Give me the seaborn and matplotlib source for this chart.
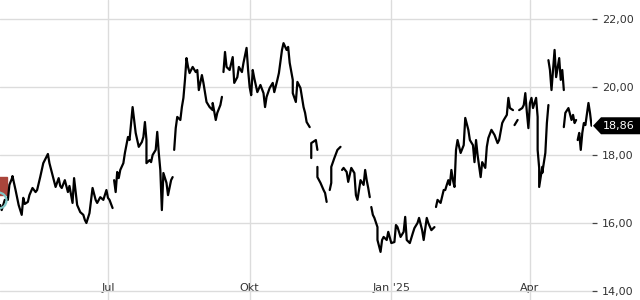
import numpy as np
import pandas as pd
import matplotlib
matplotlib.use("Agg")
import matplotlib.pyplot as plt
import seaborn as sns
from matplotlib.patches import Polygon
from matplotlib.transforms import IdentityTransform

# ---------------- data (days since start date, closing prices) ----------------
start = pd.Timestamp("2024-04-22")

seg0_days = [0, 1, 3, 5, 6, 8, 8, 10, 12, 14, 15, 16, 18, 19, 21, 23, 24, 26, 28, 29,
             31, 32, 34, 36, 38, 39, 40, 42, 44, 45, 47, 48, 50, 52, 54, 55, 56, 58, 60, 62,
             63, 65, 67, 69, 70, 71, 73]
seg0_price = [16.53, 16.38, 16.68, 16.68, 17.12, 17.35, 17.38, 16.97, 16.53, 16.24,
              16.74, 16.56, 16.62, 16.82, 17.03, 16.91, 16.97, 17.35, 17.76, 17.85,
              18.03, 17.76, 17.41, 17.06, 17.32, 17.09, 17.03, 17.26, 16.91, 17.09,
              16.59, 17.32, 16.53, 16.32, 16.24, 16.09, 16.00, 16.29, 17.03, 16.68,
              16.59, 16.76, 16.68, 16.97, 16.74, 16.68, 16.44]

seg1_days = [74, 75, 76, 77, 78, 80, 81, 83, 84, 86, 87, 88, 90, 92, 93, 94, 95, 95, 97, 98,
             99, 101, 102, 103, 104, 105, 106, 108, 109, 111, 112]
seg1_price = [17.26, 16.91, 17.50, 17.32, 17.56, 17.76, 18.06, 18.53, 18.44, 19.41,
              19.03, 18.65, 18.24, 18.38, 18.53, 18.97, 18.44, 17.76, 17.85, 17.79,
              18.00, 18.15, 18.68, 18.06, 17.56, 16.38, 17.47, 17.18, 16.82, 17.26, 17.35]

seg2_days = [113, 114, 115, 117, 118, 119, 120, 121, 122, 123, 125, 127, 128, 129, 131,
             132, 134, 136, 138, 138, 140, 141, 143, 144]
seg2_price = [18.15, 18.79, 19.12, 19.03, 19.41, 19.68, 20.21, 20.85, 20.59, 20.41,
              20.59, 20.44, 20.50, 19.91, 20.35, 20.12, 19.56, 19.41, 19.32, 19.53,
              19.03, 19.24, 19.47, 19.71]

seg3_days = [145, 146, 147, 149, 151, 152, 154, 155, 157, 158, 160, 161, 162, 163, 164,
             165, 167, 169, 171, 172, 173, 175, 177, 178, 180, 181, 183, 184, 186, 187,
             188, 190, 190, 192, 193, 195, 197, 198, 199, 201]
seg3_price = [20.44, 21.03, 20.59, 20.50, 20.88, 20.12, 20.29, 20.59, 20.44, 20.71,
              21.15, 20.50, 20.00, 19.76, 20.50, 20.26, 19.85, 20.06, 19.82, 19.41,
              19.71, 19.97, 20.12, 19.85, 20.21, 20.41, 21.09, 21.29, 21.09, 21.18,
              20.71, 20.21, 19.82, 19.56, 20.15, 19.97, 19.41, 19.24, 18.97, 18.82]

seg4_days = [202, 202, 203, 205, 206]
seg4_price = [17.91, 18.35, 18.38, 18.44, 18.15]

seg5_days = [206, 206, 208, 210, 211, 212]
seg5_price = [17.65, 17.35, 17.18, 16.97, 16.88, 16.62]

seg6_days = [214, 215, 215, 217, 219, 221]
seg6_price = [16.97, 17.18, 17.65, 17.91, 18.15, 18.24]

seg7_days = [222, 223, 225, 226, 228, 230, 231, 232, 234, 236, 237, 238, 239, 240]
seg7_price = [17.56, 17.62, 17.50, 17.21, 17.62, 17.47, 16.82, 16.68, 17.26, 17.12,
              17.56, 17.26, 17.03, 16.76]

seg8_days = [241, 242, 243, 245, 245, 247, 248, 249, 251, 252, 254, 256, 257, 258, 260,
             262, 263, 264, 266, 268, 269, 271, 272, 274, 275, 277, 278, 280, 282]
seg8_price = [16.47, 16.24, 16.15, 15.88, 15.50, 15.15, 15.50, 15.59, 15.50, 15.74,
              15.41, 15.44, 15.94, 15.88, 15.59, 15.74, 16.18, 15.50, 15.41, 15.71,
              15.85, 16.00, 16.15, 15.79, 15.50, 16.15, 16.00, 15.79, 15.88]

seg9_days = [283, 284, 286, 288, 289, 290, 291, 292, 293, 294, 295, 296, 297, 299, 301,
             302, 304, 305, 307, 308, 309, 310, 312, 313, 315, 316, 317, 319, 321, 323,
             324, 326, 327, 329, 330, 331, 333]
seg9_price = [16.47, 16.68, 16.59, 16.97, 16.97, 17.12, 17.26, 17.12, 17.56, 17.26,
              17.06, 18.15, 18.44, 18.06, 18.29, 19.09, 18.74, 18.44, 18.29, 17.79,
              18.44, 18.00, 17.35, 17.79, 17.62, 18.24, 18.50, 18.74, 18.59, 18.35,
              18.44, 18.94, 19.03, 19.18, 19.68, 19.38, 19.32]

seg10_days = [334, 336]
seg10_price = [18.88, 19.03]

seg11_days = [337, 339, 340, 341, 342, 343, 344, 345, 346, 348, 349, 349, 350, 350, 352,
              352, 354, 355, 356]
seg11_price = [19.32, 19.38, 19.47, 19.82, 19.26, 18.79, 19.53, 19.68, 19.38, 19.68,
               19.12, 18.15, 17.62, 17.06, 17.65, 17.47, 18.06, 18.94, 19.47]

seg12_days = [356, 357, 358, 359, 360, 361, 363, 364, 365, 366]
seg12_price = [20.79, 20.50, 19.91, 20.50, 21.09, 20.29, 20.85, 20.21, 20.50, 19.91]

seg13_days = [366, 367, 369, 371, 372, 373, 374]
seg13_price = [18.82, 19.24, 19.38, 19.03, 19.18, 18.94, 19.03]

seg14_days = [375, 376, 377, 378, 379, 380, 382, 383, 384]
seg14_price = [18.44, 18.65, 18.15, 18.65, 18.94, 18.88, 19.53, 19.24, 18.86]

last_label = "18,86"

tick_dates = ["2024-07-01", "2024-10-01", "2025-01-01", "2025-04-01"]
tick_labels = ["Jul", "Okt", "Jan '25", "Apr"]
y_ticks = [14, 16, 18, 20, 22]
y_tick_labels = ["14,00", "16,00", "18,00", "20,00", "22,00"]

# event markers clipped at the left edge
event_days = [-1.3, -1.3]
event_levels = [17.09, 16.68]

# ---------------- build frame ----------------
segments = [
    (seg0_days, seg0_price), (seg1_days, seg1_price), (seg2_days, seg2_price),
    (seg3_days, seg3_price), (seg4_days, seg4_price), (seg5_days, seg5_price),
    (seg6_days, seg6_price), (seg7_days, seg7_price), (seg8_days, seg8_price),
    (seg9_days, seg9_price), (seg10_days, seg10_price), (seg11_days, seg11_price),
    (seg12_days, seg12_price), (seg13_days, seg13_price), (seg14_days, seg14_price),
]
rows = []
for i, (ds, ps) in enumerate(segments):
    for d, p in zip(ds, ps):
        rows.append((start + pd.Timedelta(days=d), p, i))
df = pd.DataFrame(rows, columns=["date", "price", "seg"])

# ---------------- plot ----------------
sns.set_theme(style="white")
plt.rcParams["font.family"] = ["DejaVu Sans"]

fig = plt.figure(figsize=(6.4, 3.0), dpi=100)
ax = fig.add_axes([0, 0, 592 / 640, 1])

sns.lineplot(data=df, x="date", y="price", units="seg", estimator=None, sort=False,
             color="black", lw=1.6, ax=ax, legend=False, zorder=3)

ev_dates = [start + pd.Timedelta(days=d) for d in event_days]
ax.plot([ev_dates[0]], [event_levels[0]], marker="s", ms=13, color="#a9453b",
        mec="#a9453b", ls="none", zorder=2)
ax.plot([ev_dates[1]], [event_levels[1]], marker="o", ms=11.5, mfc="none",
        mec="#7fc6c6", mew=1.6, ls="none", zorder=4)

ax.set_xlim(start - pd.Timedelta(days=0.1), start + pd.Timedelta(days=384.3))
ax.set_ylim(14 - 9 / 34, 22 + 19 / 34)

ax.yaxis.tick_right()
ax.set_yticks(y_ticks)
ax.set_yticklabels(y_tick_labels)
ax.tick_params(axis="y", direction="out", length=3.6, width=0.9, color="#444444",
               labelsize=8, labelcolor="#333333", pad=3.5)

ax.set_xticks([pd.Timestamp(d) for d in tick_dates])
ax.set_xticklabels(tick_labels)
ax.tick_params(axis="x", direction="in", length=2.9, width=0.9, color="#444444",
               labelsize=8, labelcolor="#333333", pad=-12.5)

ax.grid(True, color="#dcdcdc", lw=1.0)
for s in ax.spines.values():
    s.set_visible(False)
ax.set_xlabel("")
ax.set_ylabel("")

# last-price label
fig.canvas.draw()
last_price = seg14_price[-1]
y_disp = ax.transData.transform((0, last_price))[1]
x_tip = ax.get_window_extent().x1 + 1
h = 8.5
poly = Polygon([(x_tip, y_disp), (x_tip + 8, y_disp + h), (640, y_disp + h),
                (640, y_disp - h), (x_tip + 8, y_disp - h)],
               closed=True, fc="black", ec="none", transform=IdentityTransform())
fig.add_artist(poly)
fig.text((x_tip + 10) / 640, y_disp / 300, last_label, color="white", fontsize=8,
         ha="left", va="center")

fig.savefig("out.png", dpi=100)
